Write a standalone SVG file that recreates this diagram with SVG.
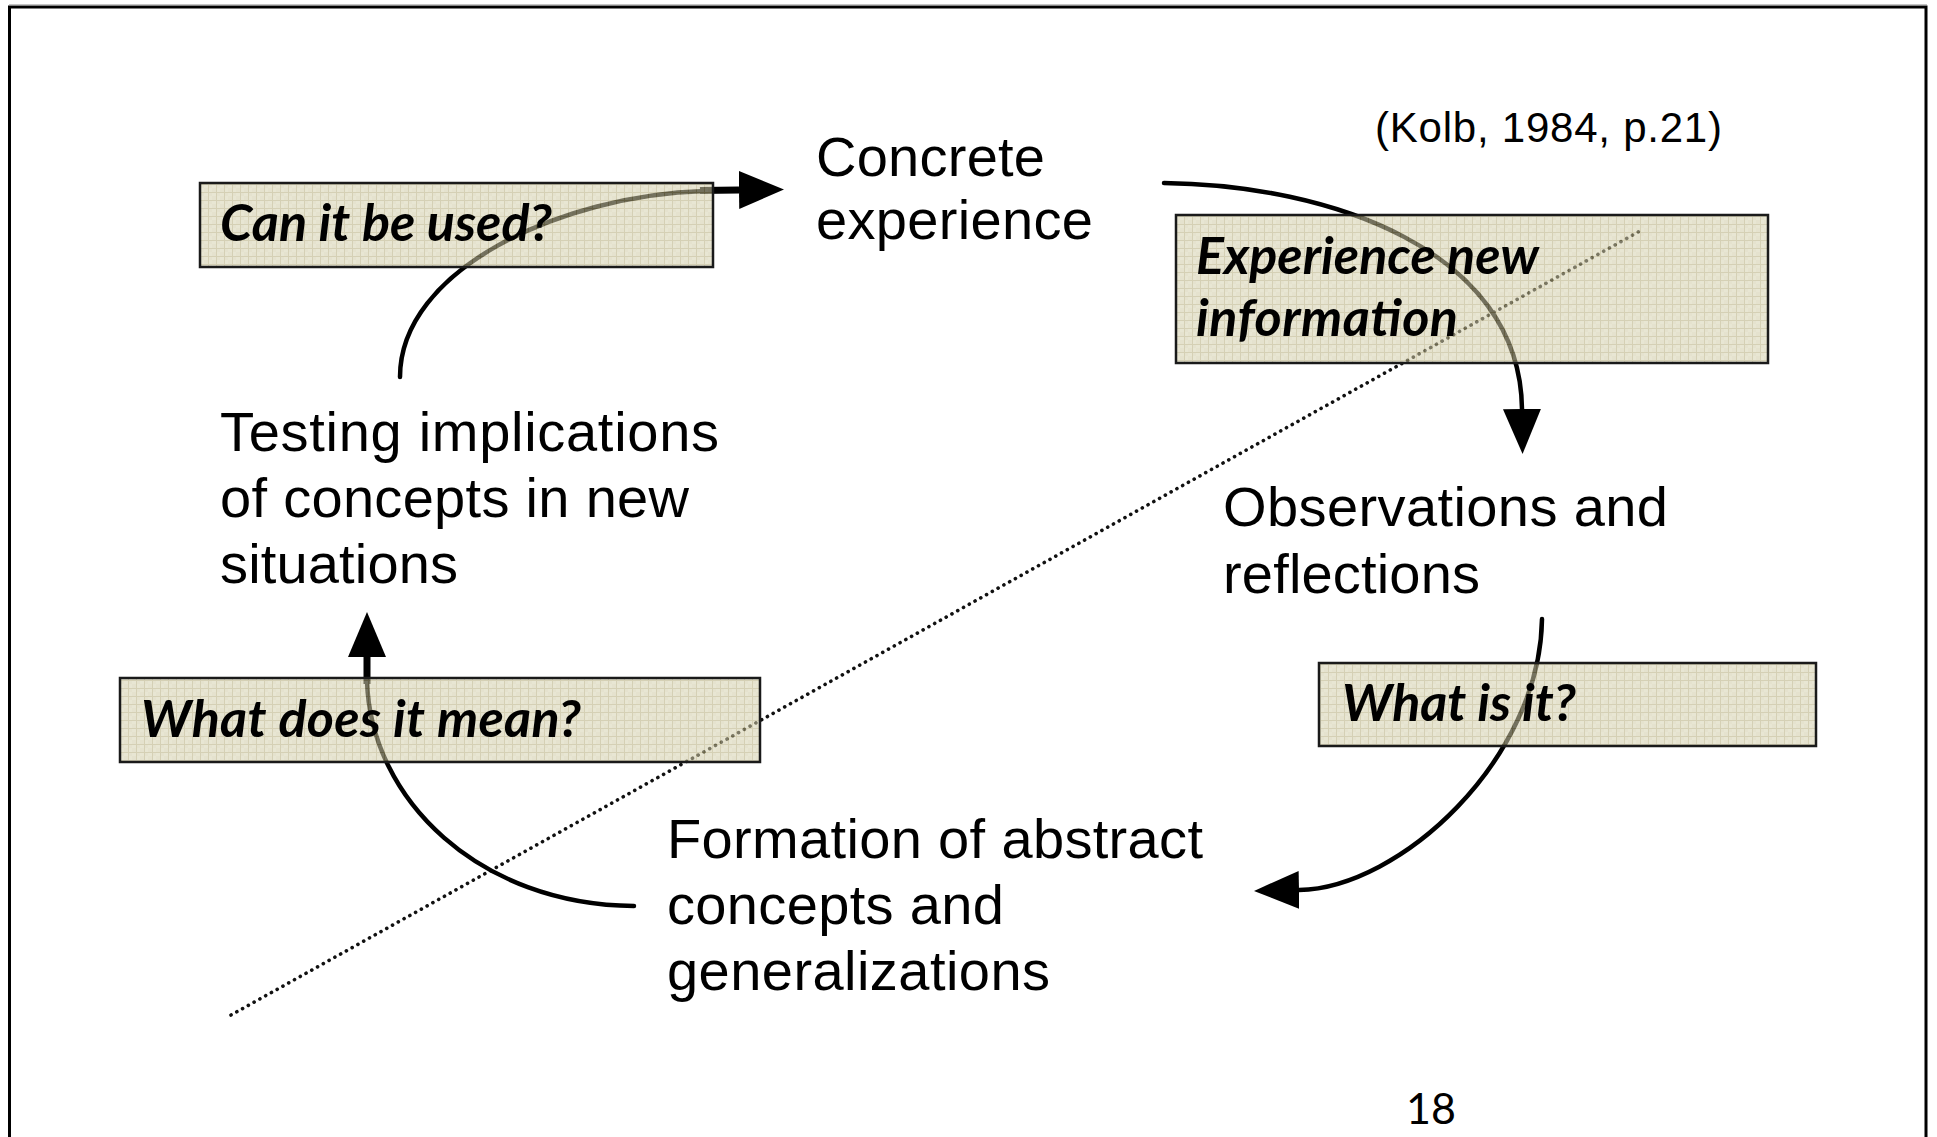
<svg xmlns="http://www.w3.org/2000/svg" width="1937" height="1137" viewBox="0 0 1937 1137">
<defs>
<pattern id="grid" width="8" height="8" patternUnits="userSpaceOnUse">
<rect width="8" height="8" fill="#d6d1ae"/>
<rect x="0" y="0" width="4" height="4" fill="#d0caa5"/>
<rect x="4" y="4" width="4" height="4" fill="#d0caa5"/>
<path d="M0,0.5 H8 M0.5,0 V8" stroke="#b3aa78" stroke-width="1"/>
</pattern>
<marker id="ah" markerUnits="userSpaceOnUse" markerWidth="46" markerHeight="40" refX="0" refY="19" orient="auto" viewBox="0 0 46 38">
<path d="M0,0 L45,19 L0,38 Z" fill="#000"/>
</marker>
</defs>
<style>
.t{font-family:"Liberation Sans",Arial,sans-serif;font-size:56px;fill:#000}
.q{font-family:Lato,"Open Sans",sans-serif;font-weight:bold;font-style:italic;font-size:52px;fill:#000}
.box{fill:url(#grid);fill-opacity:0.55;stroke:#1a1a1a;stroke-width:2.5}
.arc{fill:none;stroke:#000;stroke-width:4.5;stroke-linecap:round}
.stub{fill:none;stroke:#000;stroke-width:7}
</style>
<rect width="1937" height="1137" fill="#fff"/>
<path d="M9.5,1140 V7 H1926 V1140" fill="none" stroke="#000" stroke-width="3"/>
<line x1="9" y1="5" x2="1927" y2="5" stroke="#888" stroke-width="1"/>

<g id="connectors">
<line x1="231" y1="1015" x2="1640" y2="231" stroke="#111" stroke-width="3.6" stroke-dasharray="0.1 6.5" stroke-linecap="round"/>
<path class="arc" d="M400,377 C400,270 560,195 705,191"/>
<line class="stub" x1="700" y1="190.5" x2="739" y2="190" marker-end="url(#ah)"/>
<path class="arc" d="M1164,183 C1330,185 1520,250 1522,409" marker-end="url(#ah)"/>
<path class="arc" d="M1542,619 C1540,760 1400,888 1299,890" marker-end="url(#ah)"/>
<path class="arc" d="M634,906 C480,905 370,800 367,680"/>
<line class="stub" x1="367" y1="684" x2="367" y2="657" marker-end="url(#ah)"/>
</g>

<g id="box-used">
<rect class="box" x="200" y="183" width="513" height="84"/>
<text class="q" x="220" y="241" textLength="332">Can it be used?</text>
</g>
<g id="box-experience">
<rect class="box" x="1176" y="215" width="592" height="148"/>
<text class="q" x="1196" y="274" textLength="343">Experience new</text>
<text class="q" x="1196" y="336" textLength="262">information</text>
</g>
<g id="box-mean">
<rect class="box" x="120" y="678" width="640" height="84"/>
<text class="q" x="141" y="737" textLength="440">What does it mean?</text>
</g>
<g id="box-what">
<rect class="box" x="1319" y="663" width="497" height="83"/>
<text class="q" x="1342" y="721" textLength="234">What is it?</text>
</g>

<g id="node-concrete">
<text class="t" x="816" y="176" textLength="229">Concrete</text>
<text class="t" x="816" y="239" textLength="277">experience</text>
</g>
<g id="node-observations">
<text class="t" x="1223" y="526" textLength="445">Observations and</text>
<text class="t" x="1223" y="593" textLength="257">reflections</text>
</g>
<g id="node-formation">
<text class="t" x="667" y="858" textLength="536">Formation of abstract</text>
<text class="t" x="667" y="924" textLength="337">concepts and</text>
<text class="t" x="667" y="990" textLength="383">generalizations</text>
</g>
<g id="node-testing">
<text class="t" x="220" y="451" textLength="499">Testing implications</text>
<text class="t" x="220" y="517" textLength="469">of concepts in new</text>
<text class="t" x="220" y="583" textLength="238">situations</text>
</g>
<text id="citation" x="1375" y="142" font-family="Liberation Sans,Arial,sans-serif" font-size="42" textLength="347">(Kolb, 1984, p.21)</text>
<text id="page" x="1406" y="1124" font-family="Lato,'Open Sans',sans-serif" font-size="43">18</text>
</svg>
